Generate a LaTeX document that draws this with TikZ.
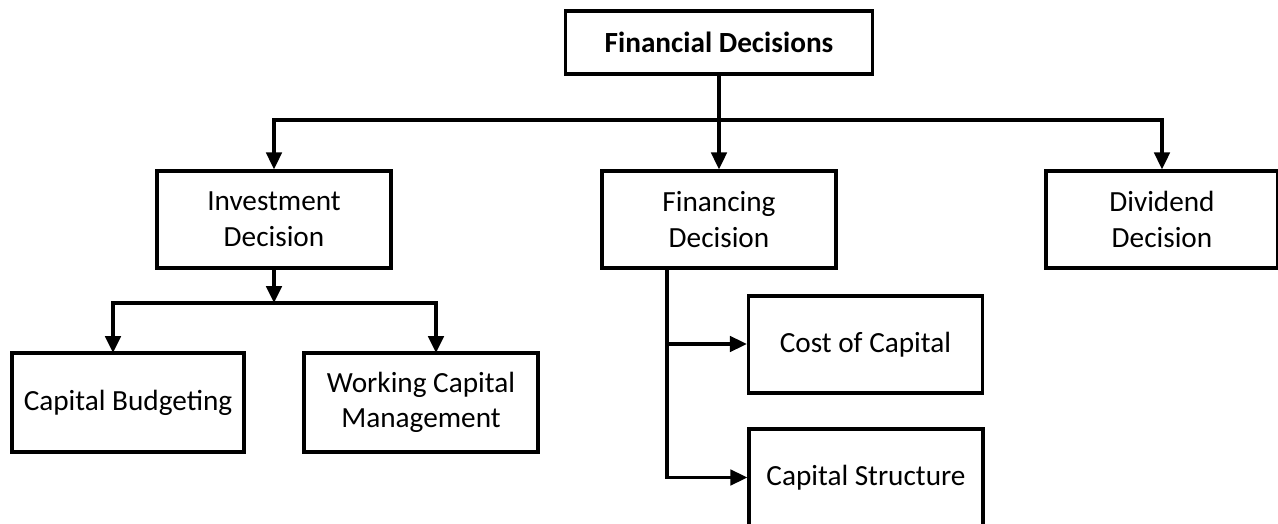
\documentclass[tikz,border=0pt]{standalone}
\usepackage{fontspec}
\setmainfont{Carlito}
\usetikzlibrary{arrows.meta}
\tikzstyle{arrow} = [line width=2.3pt,-{Triangle[length=12pt,width=11pt]}]
\tikzstyle{line} = [line width=2.3pt]
\tikzstyle{box} = [rectangle, draw=black, line width=2.3pt, align=center, minimum width=5.85cm, minimum height=2.425cm, font=\fontsize{20.8}{25.4}\selectfont]

\begin{document}
\begin{tikzpicture}[x=0.025cm,y=-0.025cm]
\useasboundingbox (0,0) rectangle (1278,524);
\clip (0,0) rectangle (1278,524);
\node (fin) [box, minimum width=7.675cm, minimum height=1.575cm] at (719,42.5) {\textbf{Financial Decisions}};
\node (inv) [box] at (274,219.5) {Investment\\Decision};
\node (fing) [box] at (719,219.5) {Financing\\Decision};
\node (div) [box, minimum width=5.8cm] at (1162,219.5) {Dividend\\Decision};
\node (cb) [box, minimum width=5.8cm, minimum height=2.475cm] at (128,402.5) {Capital Budgeting};
\node (wcm) [box, minimum height=2.475cm] at (421,402.5) {Working Capital\\Management};
\node (coc) [box] at (865.5,344.5) {Cost of Capital};
\node (cs) [box] at (866,477.5) {Capital Structure};
\coordinate (top) at (719,120);
\coordinate (ib) at (274,303);
\coordinate (cbin) at (113,353);
\coordinate (wcmin) at (436,353);
\coordinate (fl) at (667,268);
\coordinate (fm) at (667,344);
\draw [arrow] (fin) -- (fing);
\draw [arrow] (top) -| (inv);
\draw [arrow] (top) -| (div);
\draw [arrow] (inv) -- (ib);
\draw [arrow] (ib) -| (cbin);
\draw [arrow] (ib) -| (wcmin);
\draw [line] (fl) -- (fm);
\draw [arrow] (fm) -- (fm -| coc.west);
\draw [arrow] (fm) |- (cs);
\end{tikzpicture}
\end{document}
